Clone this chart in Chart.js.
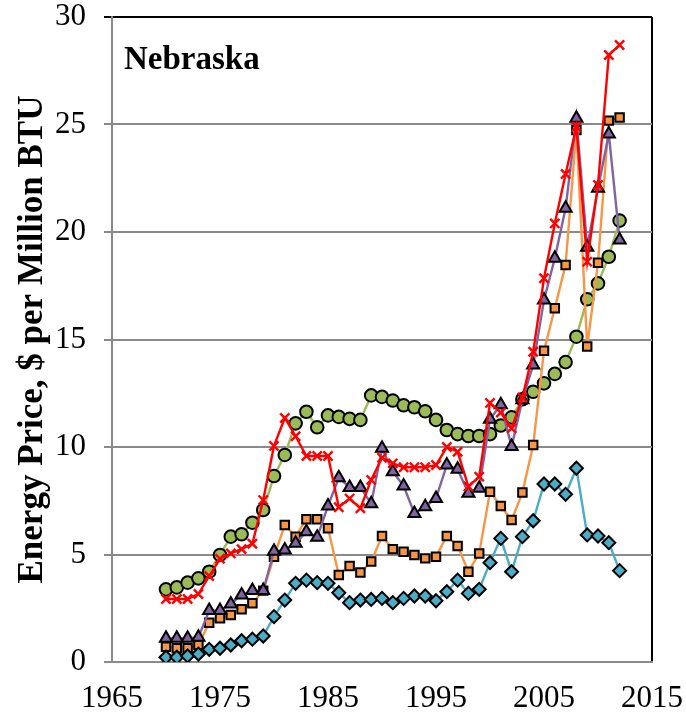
<!DOCTYPE html>
<html>
<head>
<meta charset="utf-8">
<script src="https://cdn.jsdelivr.net/npm/chart.js@4/dist/chart.umd.min.js"></script>
<style>
  html, body { margin: 0; padding: 0; background: #fff; }
  #wrap { width: 686px; height: 728px; }
</style>
</head>
<body>
<div id="wrap"><canvas id="c" width="686" height="728"></canvas></div>
<script>
const years = [1970,1971,1972,1973,1974,1975,1976,1977,1978,1979,1980,1981,1982,1983,1984,1985,1986,1987,1988,1989,1990,1991,1992,1993,1994,1995,1996,1997,1998,1999,2000,2001,2002,2003,2004,2005,2006,2007,2008,2009,2010,2011,2012];

const greenCircles = [3.38,3.47,3.69,3.89,4.20,4.98,5.83,5.94,6.48,7.07,8.65,9.63,11.10,11.64,10.92,11.47,11.40,11.31,11.26,12.40,12.33,12.16,11.94,11.85,11.66,11.26,10.79,10.60,10.51,10.51,10.60,11.00,11.38,12.22,12.57,12.96,13.40,13.95,15.13,16.87,17.61,18.85,20.53];

const redCrosses = [2.93,2.93,2.93,3.16,4.00,4.80,5.05,5.25,5.50,7.53,10.05,11.35,10.50,9.58,9.58,9.58,7.20,7.60,7.15,8.47,9.50,9.24,9.06,9.06,9.06,9.16,10.00,9.78,8.16,8.62,12.05,11.60,10.87,12.30,14.43,17.85,20.40,22.70,24.90,18.62,22.19,28.23,28.70];

const purpleTriangles = [1.10,1.10,1.10,1.15,2.39,2.39,2.70,3.12,3.32,3.32,5.15,5.21,5.52,6.06,5.80,7.26,8.57,8.12,8.12,7.36,9.94,8.85,8.19,6.91,7.22,7.61,9.16,8.96,7.85,8.08,11.29,11.97,10.02,12.20,13.81,16.84,18.78,21.10,25.29,19.29,22.03,24.56,19.63];

const orangeSquares = [0.71,0.64,0.64,0.79,1.83,2.03,2.19,2.45,2.73,3.32,4.90,6.37,5.83,6.64,6.64,6.22,4.05,4.47,4.16,4.67,5.86,5.25,5.13,4.98,4.82,4.90,5.86,5.40,4.20,5.05,7.92,7.26,6.60,7.88,10.09,14.48,16.45,18.47,24.74,14.67,18.57,25.18,25.33];

const tealDiamonds = [0.22,0.22,0.28,0.37,0.59,0.64,0.79,0.99,1.06,1.21,2.11,2.88,3.66,3.81,3.69,3.66,3.22,2.76,2.88,2.91,2.96,2.76,2.96,3.07,3.07,2.85,3.27,3.81,3.19,3.38,4.62,5.75,4.20,5.83,6.57,8.28,8.28,7.80,9.01,5.91,5.86,5.55,4.25];

const xTicks = [1965,1975,1985,1995,2005,2015];
const yTicks = [0,5,10,15,20,25,30];
const panelLabel = 'Nebraska';
const yTitle = 'Energy Price, $ per Million BTU';

const pts = arr => arr.map((v, i) => ({x: years[i], y: v}));

const SERIF = '"Liberation Serif", "Times New Roman", serif';

const labelPlugin = {
  id: 'panelLabel',
  afterDraw(chart) {
    const {ctx, chartArea} = chart;
    ctx.save();
    ctx.font = 'bold 33px ' + SERIF;
    ctx.fillStyle = '#000';
    ctx.textBaseline = 'alphabetic';
    ctx.textAlign = 'left';
    ctx.fillText(panelLabel, chartArea.left + 12, chartArea.top + 52);
    ctx.restore();
  }
};

function ds(label, data, color, style, fill, radius) {
  return {
    label,
    data: pts(data),
    borderColor: color,
    backgroundColor: fill,
    borderWidth: 2.4,
    pointStyle: style,
    pointRadius: radius,
    pointHoverRadius: radius,
    pointBackgroundColor: fill,
    pointBorderColor: style === 'crossRot' ? color : '#000',
    pointBorderWidth: style === 'crossRot' ? 2.4 : 2,
    tension: 0
  };
}

new Chart(document.getElementById('c'), {
  type: 'line',
  data: {
    datasets: [
      ds('Red', redCrosses, '#FF0000', 'crossRot', '#FF0000', 6.5),
      ds('Purple', purpleTriangles, '#8064A2', 'triangle', '#8064A2', 7),
      ds('Teal', tealDiamonds, '#4BACC6', 'rectRot', '#4BACC6', 6.5),
      ds('Orange', orangeSquares, '#F79646', 'rect', '#F79646', 6),
      ds('Green', greenCircles, '#9BBB59', 'circle', '#9BBB59', 6.3)
    ]
  },
  options: {
    responsive: false,
    animation: false,
    devicePixelRatio: 1,
    layout: { padding: { top: 17, right: 34, left: 0, bottom: 0 } },
    plugins: { legend: { display: false }, tooltip: { enabled: false } },
    scales: {
      x: {
        type: 'linear',
        min: 1965, max: 2015,
        afterBuildTicks: s => { s.ticks = xTicks.map(v => ({value: v})); },
        afterFit: s => { s.height = 66; s.paddingLeft = 0; s.paddingRight = 0; },
        ticks: {
          callback: v => String(v),
          color: '#000',
          font: { family: SERIF, size: 31 },
          padding: 18,
          maxRotation: 0
        },
        grid: {
          drawTicks: false,
          color: c => (c.tick && c.tick.value === 2015) ? '#000' : 'rgba(0,0,0,0)',
          lineWidth: 2
        },
        border: { color: '#8a8a8a', width: 2 }
      },
      y: {
        min: 0, max: 30,
        afterBuildTicks: s => { s.ticks = yTicks.map(v => ({value: v})); },
        afterFit: s => { s.width = 112; s.paddingTop = 0; s.paddingBottom = 0; },
        ticks: {
          color: '#000',
          font: { family: SERIF, size: 31 },
          padding: 18
        },
        grid: {
          drawTicks: true,
          tickLength: 8,
          color: c => (c.tick && c.tick.value === 30) ? '#000' : '#8a8a8a',
          lineWidth: 2
        },
        border: { color: '#8a8a8a', width: 2 },
        title: {
          display: true,
          text: yTitle,
          color: '#000',
          font: { family: SERIF, size: 35, weight: 'bold' },
          padding: { top: 12, bottom: 0 }
        }
      }
    }
  },
  plugins: [labelPlugin]
});
</script>
</body>
</html>
